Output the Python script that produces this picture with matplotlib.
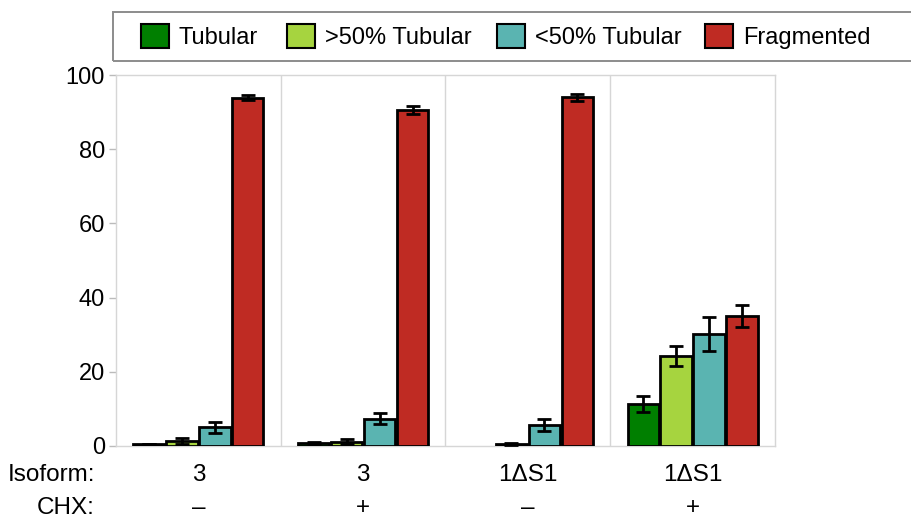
import numpy as np
from matplotlib import pyplot as plt
from matplotlib.patches import Patch, Rectangle

plt.rcParams['font.family'] = ['Liberation Sans', 'DejaVu Sans']

# categories / series
categories = ["Tubular", ">50% Tubular", "<50% Tubular", "Fragmented"]
colors = ["#007f00", "#a6d43f", "#5ab4b1", "#bf2b23"]
isoform_labels = ["3", "3", "1\u0394S1", "1\u0394S1"]
chx_labels = ["\u2013", "+", "\u2013", "+"]

# values per condition (one entry per panel)
tubular = [0.5, 0.8, 0.0, 11.3]
gt50 = [1.3, 1.2, 0.6, 24.3]
lt50 = [5.0, 7.4, 5.6, 30.2]
fragmented = [93.9, 90.6, 94.0, 35.0]

tubular_err = [0.0, 0.3, 0.0, 2.2]
gt50_err = [0.8, 0.7, 0.3, 2.7]
lt50_err = [1.5, 1.6, 1.6, 4.6]
fragmented_err = [0.6, 1.0, 1.0, 3.0]

values = [tubular, gt50, lt50, fragmented]
errors = [tubular_err, gt50_err, lt50_err, fragmented_err]

fig = plt.figure(figsize=(9.12, 5.19), dpi=100)
ax = fig.add_axes([116 / 912, 1 - 446 / 519, (775 - 116) / 912, (446 - 75) / 519])

n_panels = len(isoform_labels)
panel_x = np.arange(n_panels)
for k, (vals, errs) in enumerate(zip(values, errors)):
    vals = np.array(vals, dtype=float)
    errs = np.array(errs, dtype=float)
    x = panel_x + 0.2 + 0.2 * k
    keep = vals > 0  # zero-valued bars are not drawn in the original
    ax.bar(x[keep], vals[keep], width=0.19, color=colors[k], edgecolor="black",
           linewidth=2.0, zorder=3)
    ax.errorbar(x[keep], vals[keep], yerr=errs[keep], fmt="none", ecolor="black",
                elinewidth=2.0, capsize=4.8, capthick=2.0, zorder=4)

ax.set_xlim(0, n_panels)
ax.set_ylim(0, 100)
ax.set_yticks([0, 20, 40, 60, 80, 100])
ax.tick_params(axis="y", labelsize=17, length=5, width=1, color="#bbbbbb", pad=3)
ax.set_xticks(np.arange(1, n_panels))
ax.tick_params(axis="x", length=0, labelbottom=False)
ax.grid(axis="x", color="#d6d6d6", linewidth=1, zorder=0)
for s in ax.spines.values():
    s.set_color("#d6d6d6")
    s.set_linewidth(1)

# row labels under each panel
trans = ax.get_xaxis_transform()
for i in range(n_panels):
    ax.text(i + 0.5, -0.0943, isoform_labels[i], transform=trans, ha="center", va="baseline", fontsize=17.5)
    ax.text(i + 0.5, -0.1833, chx_labels[i], transform=trans, ha="center", va="baseline", fontsize=17.5)
fig.text(95 / 912, 1 - 481 / 519, "Isoform:", ha="right", va="baseline", fontsize=17.5)
fig.text(95 / 912, 1 - 514 / 519, "CHX:", ha="right", va="baseline", fontsize=17.5)

# legend: one entry per slot so the uneven spacing of the original is kept,
# and the box runs off the right edge
legend_x = [141, 287, 497, 705]
for lab, c, lx in zip(categories, colors, legend_x):
    h = Patch(facecolor=c, edgecolor="black", linewidth=1.5)
    fig.legend([h], [lab], loc="center left", bbox_to_anchor=(lx / 912, 1 - 36.5 / 519),
               frameon=False, fontsize=17, handlelength=1.2, handleheight=1.2,
               handletextpad=0.4, borderpad=0, borderaxespad=0)
fig.patches.append(Rectangle((113 / 912, 1 - 61 / 519), 0.95, 49 / 519, transform=fig.transFigure,
                             facecolor="none", edgecolor="#8c8c8c", linewidth=1.4))

plt.savefig("out.png", dpi=100)
